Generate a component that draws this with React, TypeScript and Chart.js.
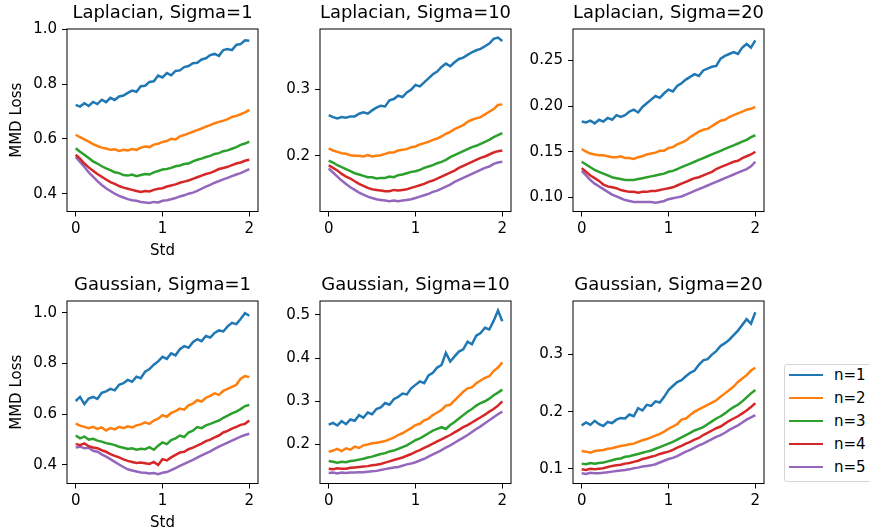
import React, { useEffect, useRef } from 'react';
import { Chart, registerables } from 'chart.js';

Chart.register(...registerables);

const FONT = 'DejaVu Sans';
Chart.defaults.font.family = FONT;

// ---------------- data ----------------
const stds = [
  0, 0.05, 0.1, 0.15, 0.2, 0.25, 0.3, 0.35, 0.4, 0.45,
  0.5, 0.55, 0.6, 0.65, 0.7, 0.75, 0.8, 0.85, 0.9, 0.95,
  1, 1.05, 1.1, 1.15, 1.2, 1.25, 1.3, 1.35, 1.4, 1.45,
  1.5, 1.55, 1.6, 1.65, 1.7, 1.75, 1.8, 1.85, 1.9, 1.95,
  2,
];

const seriesLabels = ['n=1', 'n=2', 'n=3', 'n=4', 'n=5'];
const xTicks = [0, 1, 2];

// Laplacian, Sigma=1
const lap1N1 = [0.724,0.718,0.730,0.720,0.735,0.727,0.743,0.734,0.750,0.742,0.755,0.758,0.768,0.776,0.772,0.792,0.794,0.808,0.810,0.831,0.824,0.840,0.832,0.848,0.850,0.862,0.866,0.876,0.878,0.890,0.894,0.906,0.910,0.903,0.924,0.928,0.924,0.943,0.946,0.960,0.958];
const lap1N2 = [0.615,0.606,0.598,0.590,0.581,0.574,0.568,0.565,0.560,0.562,0.556,0.560,0.558,0.563,0.560,0.568,0.572,0.570,0.579,0.582,0.589,0.592,0.600,0.598,0.609,0.614,0.620,0.626,0.632,0.638,0.645,0.650,0.657,0.662,0.666,0.672,0.680,0.684,0.690,0.697,0.706];
const lap1N3 = [0.566,0.553,0.542,0.530,0.518,0.510,0.500,0.492,0.486,0.478,0.475,0.468,0.466,0.470,0.464,0.468,0.472,0.470,0.478,0.483,0.488,0.490,0.494,0.500,0.503,0.508,0.510,0.518,0.524,0.528,0.534,0.538,0.545,0.548,0.555,0.558,0.564,0.570,0.578,0.583,0.590];
const lap1N4 = [0.542,0.528,0.510,0.496,0.484,0.472,0.462,0.452,0.442,0.436,0.428,0.422,0.418,0.414,0.410,0.406,0.410,0.408,0.414,0.418,0.420,0.426,0.430,0.434,0.440,0.444,0.448,0.454,0.460,0.466,0.472,0.476,0.482,0.490,0.494,0.498,0.504,0.510,0.514,0.520,0.524];
const lap1N5 = [0.534,0.516,0.498,0.478,0.462,0.446,0.432,0.420,0.410,0.400,0.392,0.386,0.380,0.376,0.374,0.370,0.368,0.366,0.370,0.368,0.374,0.376,0.380,0.384,0.390,0.394,0.400,0.404,0.410,0.418,0.426,0.432,0.440,0.446,0.452,0.458,0.464,0.470,0.475,0.482,0.490];

// Laplacian, Sigma=10
const lap10N1 = [0.261,0.258,0.256,0.258,0.257,0.259,0.259,0.263,0.265,0.263,0.268,0.272,0.275,0.274,0.283,0.285,0.290,0.288,0.295,0.299,0.306,0.304,0.310,0.316,0.322,0.326,0.333,0.338,0.334,0.340,0.345,0.347,0.351,0.355,0.358,0.360,0.364,0.368,0.375,0.377,0.372];
const lap10N2 = [0.211,0.208,0.206,0.204,0.203,0.201,0.200,0.200,0.199,0.201,0.199,0.200,0.201,0.203,0.205,0.205,0.208,0.209,0.210,0.213,0.214,0.217,0.219,0.221,0.224,0.226,0.229,0.233,0.236,0.240,0.243,0.246,0.251,0.254,0.256,0.258,0.262,0.266,0.270,0.276,0.277];
const lap10N3 = [0.193,0.190,0.186,0.183,0.180,0.177,0.174,0.172,0.170,0.168,0.168,0.166,0.167,0.167,0.169,0.168,0.171,0.172,0.174,0.176,0.177,0.179,0.182,0.184,0.186,0.189,0.191,0.194,0.198,0.201,0.204,0.207,0.210,0.213,0.215,0.218,0.221,0.224,0.228,0.231,0.234];
const lap10N4 = [0.186,0.182,0.178,0.173,0.169,0.166,0.162,0.158,0.155,0.152,0.150,0.149,0.148,0.147,0.147,0.149,0.148,0.149,0.150,0.152,0.154,0.156,0.158,0.161,0.163,0.166,0.169,0.172,0.175,0.178,0.182,0.185,0.188,0.191,0.194,0.197,0.199,0.202,0.205,0.207,0.208];
const lap10N5 = [0.181,0.175,0.169,0.163,0.158,0.153,0.149,0.145,0.142,0.139,0.137,0.135,0.134,0.133,0.132,0.133,0.132,0.133,0.134,0.135,0.137,0.139,0.141,0.143,0.146,0.148,0.151,0.154,0.157,0.161,0.164,0.167,0.170,0.173,0.176,0.179,0.182,0.184,0.188,0.190,0.191];

// Laplacian, Sigma=20
const lap20N1 = [0.183,0.182,0.184,0.181,0.185,0.183,0.187,0.185,0.190,0.188,0.190,0.194,0.196,0.193,0.199,0.203,0.207,0.211,0.209,0.214,0.218,0.216,0.222,0.225,0.229,0.232,0.235,0.233,0.239,0.241,0.243,0.244,0.252,0.255,0.257,0.259,0.257,0.264,0.268,0.264,0.272];
const lap20N2 = [0.153,0.150,0.148,0.147,0.146,0.146,0.145,0.144,0.144,0.145,0.143,0.143,0.142,0.144,0.145,0.147,0.148,0.149,0.151,0.151,0.154,0.155,0.158,0.160,0.162,0.166,0.169,0.172,0.174,0.175,0.178,0.181,0.184,0.185,0.188,0.190,0.192,0.194,0.196,0.197,0.199];
const lap20N3 = [0.139,0.136,0.133,0.130,0.128,0.126,0.124,0.122,0.121,0.120,0.119,0.119,0.119,0.120,0.121,0.122,0.123,0.124,0.125,0.126,0.128,0.129,0.131,0.133,0.135,0.137,0.139,0.141,0.143,0.145,0.147,0.149,0.151,0.153,0.155,0.157,0.159,0.161,0.163,0.166,0.168];
const lap20N4 = [0.132,0.128,0.124,0.121,0.118,0.114,0.112,0.111,0.110,0.108,0.107,0.106,0.106,0.105,0.106,0.106,0.107,0.107,0.108,0.109,0.110,0.111,0.113,0.115,0.117,0.119,0.121,0.122,0.124,0.126,0.128,0.131,0.133,0.135,0.137,0.139,0.140,0.143,0.145,0.147,0.150];
const lap20N5 = [0.129,0.124,0.119,0.115,0.112,0.109,0.106,0.103,0.101,0.099,0.097,0.096,0.095,0.095,0.095,0.095,0.095,0.094,0.095,0.096,0.098,0.099,0.100,0.101,0.103,0.105,0.107,0.109,0.111,0.113,0.115,0.117,0.119,0.121,0.123,0.125,0.127,0.129,0.131,0.134,0.139];

// Gaussian, Sigma=1
const gau1N1 = [0.652,0.668,0.640,0.662,0.668,0.660,0.684,0.690,0.700,0.694,0.716,0.722,0.735,0.728,0.748,0.742,0.768,0.778,0.795,0.808,0.826,0.818,0.840,0.832,0.856,0.868,0.862,0.884,0.896,0.888,0.908,0.902,0.920,0.930,0.926,0.946,0.960,0.955,0.975,0.998,0.988];
const gau1N2 = [0.563,0.555,0.550,0.545,0.550,0.542,0.548,0.536,0.545,0.540,0.550,0.545,0.552,0.548,0.556,0.560,0.568,0.562,0.575,0.582,0.596,0.590,0.605,0.612,0.622,0.618,0.635,0.642,0.655,0.650,0.665,0.672,0.682,0.676,0.692,0.700,0.708,0.716,0.740,0.750,0.746];
const gau1N3 = [0.516,0.505,0.512,0.500,0.503,0.496,0.492,0.486,0.483,0.478,0.472,0.468,0.463,0.466,0.460,0.464,0.462,0.470,0.460,0.476,0.489,0.482,0.498,0.505,0.516,0.510,0.528,0.535,0.549,0.545,0.556,0.562,0.569,0.575,0.586,0.594,0.603,0.610,0.620,0.632,0.636];
const gau1N4 = [0.483,0.478,0.485,0.474,0.469,0.466,0.458,0.452,0.443,0.436,0.430,0.422,0.416,0.412,0.408,0.410,0.407,0.404,0.412,0.400,0.423,0.418,0.430,0.440,0.449,0.452,0.462,0.468,0.476,0.484,0.494,0.500,0.509,0.516,0.528,0.534,0.543,0.550,0.558,0.562,0.575];
const gau1N5 = [0.469,0.472,0.466,0.468,0.456,0.452,0.442,0.433,0.423,0.412,0.402,0.392,0.383,0.378,0.374,0.370,0.369,0.366,0.368,0.364,0.369,0.372,0.380,0.388,0.396,0.404,0.412,0.420,0.429,0.438,0.446,0.454,0.463,0.472,0.480,0.488,0.496,0.504,0.512,0.518,0.523];

// Gaussian, Sigma=10
const gau10N1 = [0.246,0.250,0.244,0.254,0.247,0.258,0.255,0.268,0.262,0.274,0.270,0.282,0.286,0.296,0.292,0.305,0.310,0.318,0.316,0.330,0.338,0.346,0.342,0.360,0.366,0.378,0.384,0.412,0.392,0.404,0.415,0.420,0.438,0.432,0.452,0.458,0.470,0.466,0.486,0.510,0.485];
const gau10N2 = [0.183,0.186,0.190,0.185,0.191,0.188,0.195,0.192,0.198,0.200,0.203,0.204,0.206,0.208,0.212,0.216,0.222,0.226,0.232,0.238,0.245,0.248,0.256,0.260,0.268,0.274,0.280,0.290,0.292,0.302,0.312,0.322,0.330,0.332,0.342,0.348,0.354,0.358,0.370,0.378,0.390];
const gau10N3 = [0.162,0.160,0.158,0.160,0.159,0.162,0.163,0.165,0.167,0.170,0.172,0.175,0.178,0.180,0.184,0.186,0.190,0.194,0.198,0.204,0.210,0.214,0.220,0.226,0.232,0.236,0.240,0.236,0.245,0.252,0.260,0.268,0.276,0.282,0.290,0.296,0.300,0.306,0.314,0.320,0.327];
const gau10N4 = [0.144,0.143,0.145,0.144,0.144,0.146,0.147,0.148,0.149,0.150,0.152,0.153,0.155,0.158,0.161,0.164,0.167,0.170,0.174,0.178,0.183,0.187,0.192,0.197,0.202,0.207,0.212,0.217,0.222,0.228,0.234,0.240,0.245,0.251,0.257,0.263,0.269,0.276,0.282,0.290,0.300];
const gau10N5 = [0.134,0.135,0.133,0.135,0.134,0.135,0.135,0.136,0.136,0.137,0.138,0.139,0.141,0.143,0.145,0.147,0.148,0.151,0.154,0.156,0.159,0.163,0.167,0.172,0.177,0.182,0.187,0.193,0.198,0.204,0.210,0.216,0.222,0.229,0.236,0.242,0.249,0.256,0.263,0.270,0.276];

// Gaussian, Sigma=20
const gau20N1 = [0.176,0.181,0.177,0.184,0.178,0.175,0.182,0.180,0.186,0.189,0.188,0.195,0.192,0.206,0.202,0.212,0.210,0.218,0.216,0.226,0.238,0.245,0.252,0.255,0.262,0.268,0.272,0.282,0.290,0.292,0.300,0.306,0.315,0.320,0.326,0.334,0.342,0.352,0.362,0.354,0.374];
const gau20N2 = [0.131,0.130,0.128,0.131,0.132,0.133,0.135,0.136,0.138,0.140,0.141,0.143,0.144,0.147,0.150,0.152,0.155,0.158,0.161,0.165,0.170,0.174,0.178,0.186,0.188,0.194,0.200,0.204,0.208,0.212,0.216,0.220,0.226,0.232,0.238,0.244,0.252,0.258,0.264,0.272,0.277];
const gau20N3 = [0.109,0.108,0.110,0.109,0.110,0.111,0.113,0.115,0.117,0.118,0.121,0.122,0.124,0.126,0.128,0.130,0.132,0.135,0.138,0.141,0.144,0.147,0.151,0.155,0.159,0.163,0.167,0.170,0.173,0.178,0.183,0.188,0.192,0.197,0.203,0.208,0.212,0.218,0.225,0.232,0.238];
const gau20N4 = [0.099,0.098,0.100,0.099,0.100,0.101,0.103,0.105,0.106,0.107,0.109,0.110,0.112,0.114,0.117,0.119,0.121,0.123,0.126,0.128,0.130,0.133,0.137,0.140,0.144,0.147,0.151,0.154,0.159,0.163,0.167,0.171,0.174,0.179,0.184,0.188,0.192,0.197,0.202,0.208,0.215];
const gau20N5 = [0.092,0.091,0.093,0.092,0.092,0.093,0.094,0.095,0.096,0.097,0.098,0.099,0.101,0.102,0.104,0.105,0.106,0.108,0.111,0.114,0.117,0.119,0.122,0.126,0.130,0.133,0.137,0.141,0.144,0.148,0.152,0.156,0.159,0.163,0.168,0.172,0.176,0.181,0.186,0.190,0.194];

// y-axis ticks per panel
const lap1YTicks = [0.4, 0.6, 0.8, 1.0];
const lap10YTicks = [0.2, 0.3];
const lap20YTicks = [0.1, 0.15, 0.2, 0.25];
const gau1YTicks = [0.4, 0.6, 0.8, 1.0];
const gau10YTicks = [0.2, 0.3, 0.4, 0.5];
const gau20YTicks = [0.1, 0.2, 0.3];

// ---------------- panel config ----------------
interface PanelCfg {
  title: string;
  series: number[][];
  yMin: number;
  yMax: number;
  yTicks: number[];
  decimals: number;
}

const panels: PanelCfg[] = [
  { title: 'Laplacian, Sigma=1', series: [lap1N1, lap1N2, lap1N3, lap1N4, lap1N5], yMin: 0.335, yMax: 1.001, yTicks: lap1YTicks, decimals: 1 },
  { title: 'Laplacian, Sigma=10', series: [lap10N1, lap10N2, lap10N3, lap10N4, lap10N5], yMin: 0.1167, yMax: 0.3898, yTicks: lap10YTicks, decimals: 1 },
  { title: 'Laplacian, Sigma=20', series: [lap20N1, lap20N2, lap20N3, lap20N4, lap20N5], yMin: 0.0845, yMax: 0.2844, yTicks: lap20YTicks, decimals: 2 },
  { title: 'Gaussian, Sigma=1', series: [gau1N1, gau1N2, gau1N3, gau1N4, gau1N5], yMin: 0.327, yMax: 1.046, yTicks: gau1YTicks, decimals: 1 },
  { title: 'Gaussian, Sigma=10', series: [gau10N1, gau10N2, gau10N3, gau10N4, gau10N5], yMin: 0.1098, yMax: 0.532, yTicks: gau10YTicks, decimals: 1 },
  { title: 'Gaussian, Sigma=20', series: [gau20N1, gau20N2, gau20N3, gau20N4, gau20N5], yMin: 0.0742, yMax: 0.3938, yTicks: gau20YTicks, decimals: 1 },
];

// ---------------- styling / layout ----------------
const COLORS = ['#1f77b4', '#ff7f0e', '#2ca02c', '#d62728', '#9467bd'];
const LINE_W = 2.5;
const COL_LEFT = [67, 320, 573];
const ROW_TOP = [29, 301];
const BOX_W = 191;
const Y_AXIS_W = 60;
const X_AXIS_H = 48.5;
const TITLE_BLOCK = 29;
const RIGHT_PAD = 12;
const CANVAS_W = Y_AXIS_W + BOX_W + RIGHT_PAD;
const CANVAS_H = 260;

const boxPlugin = {
  id: 'axesBox',
  afterDraw(chart: any) {
    const { ctx, chartArea: a } = chart;
    ctx.save();
    ctx.strokeStyle = '#000';
    ctx.lineWidth = 1;
    ctx.strokeRect(a.left, a.top, a.right - a.left, a.bottom - a.top);
    ctx.restore();
  },
};

function Panel({ cfg, left, top, showY, showX }: { cfg: PanelCfg; left: number; top: number; showY: boolean; showX: boolean }) {
  const ref = useRef<HTMLCanvasElement>(null);
  useEffect(() => {
    if (!ref.current) return;
    const tickFont = { family: FONT, size: 15 };
    const chart = new Chart(ref.current, {
      type: 'line',
      data: {
        datasets: cfg.series.map((s, i) => ({
          label: seriesLabels[i],
          data: stds.map((x, j) => ({ x, y: s[j] })),
          borderColor: COLORS[i],
          backgroundColor: COLORS[i],
          borderWidth: LINE_W,
          borderJoinStyle: 'miter' as const,
          pointRadius: 0,
          tension: 0,
          fill: false,
        })),
      },
      options: {
        animation: false,
        responsive: false,
        devicePixelRatio: 1,
        events: [],
        layout: { padding: { left: 0, right: RIGHT_PAD, top: 0, bottom: 0 } },
        plugins: {
          legend: { display: false },
          tooltip: { enabled: false },
          title: {
            display: true,
            text: cfg.title,
            fullSize: false,
            color: '#000',
            font: { family: FONT, size: 18, weight: 'normal' as any, lineHeight: 1.2 },
            padding: { top: 3, bottom: TITLE_BLOCK - 3 - 21.6 },
          },
        },
        scales: {
          x: {
            type: 'linear',
            min: -0.1,
            max: 2.1,
            afterBuildTicks: (s: any) => { s.ticks = xTicks.map((v) => ({ value: v })); },
            afterFit: (s: any) => { s.height = X_AXIS_H; },
            ticks: { color: '#000', font: tickFont, padding: 4, maxRotation: 0, autoSkip: false, callback: (v: any) => String(v) },
            grid: { drawOnChartArea: false, drawTicks: true, tickLength: 5, color: '#000', lineWidth: 1 },
            border: { display: false },
            title: { display: showX, text: 'Std', color: '#000', font: { family: FONT, size: 15 }, padding: { top: 0, bottom: 0 } },
          },
          y: {
            type: 'linear',
            min: cfg.yMin,
            max: cfg.yMax,
            afterBuildTicks: (s: any) => { s.ticks = cfg.yTicks.map((v) => ({ value: v })); },
            afterFit: (s: any) => { s.width = Y_AXIS_W; },
            ticks: { color: '#000', font: tickFont, padding: 5, autoSkip: false, callback: (v: any) => Number(v).toFixed(cfg.decimals) },
            grid: { drawOnChartArea: false, drawTicks: true, tickLength: 5, color: '#000', lineWidth: 1 },
            border: { display: false },
            title: { display: showY, text: 'MMD Loss', color: '#000', font: { family: FONT, size: 15 }, padding: { top: 1, bottom: 0 } },
          },
        },
      },
      plugins: [boxPlugin],
    });
    return () => chart.destroy();
  }, [cfg, showX, showY]);
  return (
    <canvas
      ref={ref}
      width={CANVAS_W}
      height={CANVAS_H}
      style={{ position: 'absolute', left, top, width: CANVAS_W, height: CANVAS_H }}
    />
  );
}

function Legend() {
  const left = 783.5;
  const top = 363.5;
  const rowCenters = [11.5, 34.4, 57.3, 80.2, 103.1];
  return (
    <div
      style={{
        position: 'absolute',
        left,
        top,
        width: 95,
        height: 118,
        boxSizing: 'border-box',
        border: '1px solid #d6d6d6',
        borderRadius: 3,
        background: 'rgba(255,255,255,0.8)',
        fontFamily: FONT,
        fontSize: 15,
        color: '#000',
      }}
    >
      {seriesLabels.map((lab, i) => (
        <React.Fragment key={lab}>
          <div
            style={{
              position: 'absolute',
              left: 4,
              top: rowCenters[i] - 1 - 1.1,
              width: 34,
              height: 2.2,
              background: COLORS[i],
            }}
          />
          <div
            style={{
              position: 'absolute',
              left: 49.5,
              top: rowCenters[i] - 1 - 10,
              height: 20,
              lineHeight: '20px',
              whiteSpace: 'nowrap',
            }}
          >
            {lab}
          </div>
        </React.Fragment>
      ))}
    </div>
  );
}

export default function App() {
  return (
    <div
      style={{
        position: 'fixed',
        left: 0,
        top: 0,
        width: 870,
        height: 529,
        overflow: 'hidden',
        background: '#fff',
        fontFamily: FONT,
      }}
    >
      {panels.map((p, idx) => {
        const row = Math.floor(idx / 3);
        const col = idx % 3;
        return (
          <Panel
            key={p.title}
            cfg={p}
            left={COL_LEFT[col] - Y_AXIS_W}
            top={ROW_TOP[row] - TITLE_BLOCK}
            showY={col === 0}
            showX={col === 0}
          />
        );
      })}
      <Legend />
    </div>
  );
}
